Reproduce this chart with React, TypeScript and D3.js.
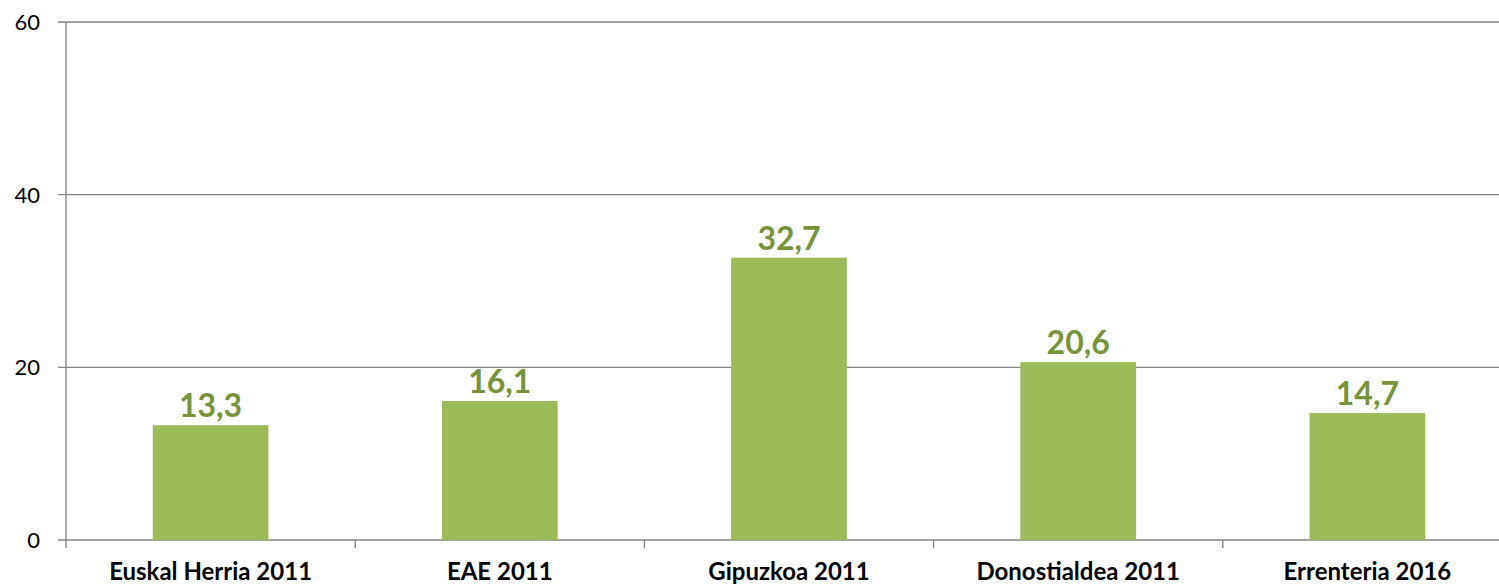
import React from 'react';
import * as d3 from 'd3';

const categories = ['Euskal Herria 2011', 'EAE 2011', 'Gipuzkoa 2011', 'Donostialdea 2011', 'Errenteria 2016'];
const values = [13.3, 16.1, 32.7, 20.6, 14.7];
const yTicks = [0, 20, 40, 60];

const width = 1499;
const height = 584;
const margin = { top: 22, left: 66, bottom: 44 };
const plotRight = 1512; // plot runs past the window edge in the original

const fmt = (v: number) => v.toFixed(1).replace('.', ',');

const App = () => {
    const x = d3.scaleBand<string>()
        .domain(categories)
        .range([margin.left, plotRight]);

    const y = d3.scaleLinear()
        .domain([0, 60])
        .range([height - margin.bottom, margin.top]);

    const bw = x.bandwidth() * 0.4;
    const gridColor = '#868686';
    const font = 'Lato, "Open Sans", sans-serif';

    return (
        <svg width={width} height={height} style={{ position: 'absolute', left: 0, top: 0 }}>
            {yTicks.map(t => (
                <g key={t}>
                    <line x1={margin.left - 8} x2={plotRight} y1={y(t)} y2={y(t)} stroke={gridColor} strokeWidth={1.4} />
                    <text x={40} y={y(t)} dy="0.36em" textAnchor="end" fontFamily={font} fontSize={22} fill="#000">{t}</text>
                </g>
            ))}
            <line x1={margin.left} x2={margin.left} y1={margin.top} y2={y(0) + 8} stroke={gridColor} strokeWidth={1.4} />
            {categories.slice(1).map(c => (
                <line key={c} x1={x(c)!} x2={x(c)!} y1={y(0)} y2={y(0) + 8} stroke={gridColor} strokeWidth={1.4} />
            ))}
            {categories.map((c, i) => {
                const cx = x(c)! + x.bandwidth() / 2;
                return (
                    <g key={c}>
                        <rect x={cx - bw / 2} y={y(values[i])} width={bw} height={y(0) - y(values[i])} fill="#9BBB59" />
                        <text x={cx} y={y(values[i]) - 8} textAnchor="middle" fontFamily={font} fontWeight="bold" fontSize={32} fill="#77933C">{fmt(values[i])}</text>
                        <text x={cx} y={580} textAnchor="middle" fontFamily={font} fontWeight="bold" fontSize={24} fill="#000">{c}</text>
                    </g>
                );
            })}
        </svg>
    );
};

export default App;
